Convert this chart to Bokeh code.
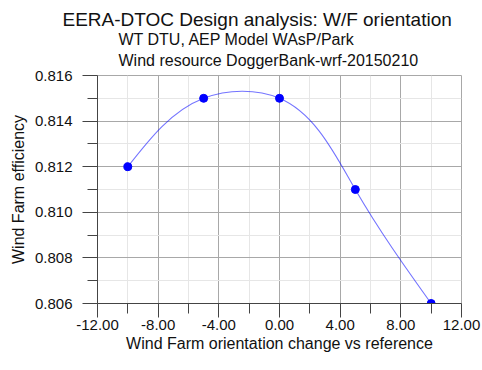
import numpy as np
from bokeh.plotting import figure
from bokeh.models import Title, FixedTicker, NumeralTickFormatter, Range1d
from bokeh.embed import file_html
from bokeh.resources import INLINE

orientation = [-10, -5, 0, 5, 10]
efficiency = [0.812, 0.815, 0.815, 0.811, 0.806]
x_ticks = [-12, -8, -4, 0, 4, 8, 12]
y_ticks = [0.806, 0.808, 0.810, 0.812, 0.814, 0.816]
title = "EERA-DTOC Design analysis: W/F orientation"
subtitle_1 = "WT DTU, AEP Model WAsP/Park"
subtitle_2 = "Wind resource DoggerBank-wrf-20150210"
x_label = "Wind Farm orientation change vs reference"
y_label = "Wind Farm efficiency"

FONT = "Liberation Sans"
TEXT = "#111111"
p = figure(width=482, height=370, x_range=Range1d(x_ticks[0], x_ticks[-1]),
           y_range=Range1d(y_ticks[0], y_ticks[-1]), title_location=None,
           output_backend="svg", toolbar_location=None,
           min_border_left=97, min_border_right=21, min_border_top=75, min_border_bottom=67)
p.background_fill_color = "white"
p.border_fill_color = "white"
p.outline_line_color = "#a8a8a8"

xt = np.array(x_ticks, dtype=float)
yt = np.array(y_ticks, dtype=float)
p.xaxis.ticker = FixedTicker(ticks=list(xt), minor_ticks=list((xt[:-1] + xt[1:]) / 2))
p.yaxis.ticker = FixedTicker(ticks=list(yt), minor_ticks=list((yt[:-1] + yt[1:]) / 2))
p.xaxis.formatter = NumeralTickFormatter(format="0.00")
p.yaxis.formatter = NumeralTickFormatter(format="0.000")

for ax in (p.xaxis, p.yaxis):
    ax.axis_line_color = "#444444"
    ax.major_tick_line_color = "#444444"
    ax.minor_tick_line_color = "#444444"
    ax.major_tick_in = 0
    ax.minor_tick_in = 0
    ax.major_label_text_font = FONT
    ax.major_label_text_font_size = "15px"
    ax.major_label_text_color = TEXT
    ax.axis_label_text_font = FONT
    ax.axis_label_text_font_size = "16px"
    ax.axis_label_text_font_style = "normal"
    ax.axis_label_text_color = TEXT
p.xaxis.major_tick_out = 14
p.xaxis.minor_tick_out = 10
p.yaxis.major_tick_out = 15
p.yaxis.minor_tick_out = 10
p.xaxis.major_label_standoff = 2
p.yaxis.major_label_standoff = 10
p.xaxis.axis_label_standoff = 2
p.yaxis.axis_label_standoff = 5
p.xaxis.axis_label = x_label
p.yaxis.axis_label = y_label

for g in (p.xgrid, p.ygrid):
    g.grid_line_color = "#a8a8a8"
    g.minor_grid_line_color = "#e6e6e6"

# Smooth curve through the data: parametric natural cubic spline (chord-length
# parameter, in screen proportions), drawn as Bezier segments between the points.
SX = 364 / 24
SY = 228 / 0.010
X = np.array(orientation, dtype=float)
Y = np.array(efficiency, dtype=float)
px, py = X * SX, Y * SY
n = len(X)
t = np.concatenate([[0], np.cumsum(np.hypot(np.diff(px), np.diff(py)))])
h = np.diff(t)

def derivs(v):
    A = np.zeros((n, n)); b = np.zeros(n)
    A[0, 0] = A[-1, -1] = 1
    for i in range(1, n - 1):
        A[i, i - 1] = h[i - 1]; A[i, i] = 2 * (h[i - 1] + h[i]); A[i, i + 1] = h[i]
        b[i] = 6 * ((v[i + 1] - v[i]) / h[i] - (v[i] - v[i - 1]) / h[i - 1])
    M = np.linalg.solve(A, b)
    d0 = (v[1:] - v[:-1]) / h - h * (2 * M[:-1] + M[1:]) / 6
    d1 = (v[1:] - v[:-1]) / h + h * (M[:-1] + 2 * M[1:]) / 6
    return d0, d1

dx0, dx1 = derivs(px)
dy0, dy1 = derivs(py)
p.bezier(x0=X[:-1], y0=Y[:-1], x1=X[1:], y1=Y[1:],
         cx0=(px[:-1] + dx0 * h / 3) / SX, cy0=(py[:-1] + dy0 * h / 3) / SY,
         cx1=(px[1:] - dx1 * h / 3) / SX, cy1=(py[1:] - dy1 * h / 3) / SY,
         line_color="#0000ff", line_alpha=0.55, line_width=1.1)

p.scatter(orientation, efficiency, size=8, color="#0000ff")

p.add_layout(Title(text=subtitle_2, align="left", offset=21, standoff=14.0,
                   text_font=FONT, text_font_size="16px", text_font_style="normal",
                   text_color=TEXT), "above")
p.add_layout(Title(text=subtitle_1, align="left", offset=21, standoff=-11.6,
                   text_font=FONT, text_font_size="16px", text_font_style="normal",
                   text_color=TEXT), "above")
p.add_layout(Title(text=title, align="left", offset=-35, standoff=11.2,
                   text_font=FONT, text_font_size="19px", text_font_style="normal",
                   text_color=TEXT), "above")

open("out.html", "w").write(file_html(p, INLINE))
